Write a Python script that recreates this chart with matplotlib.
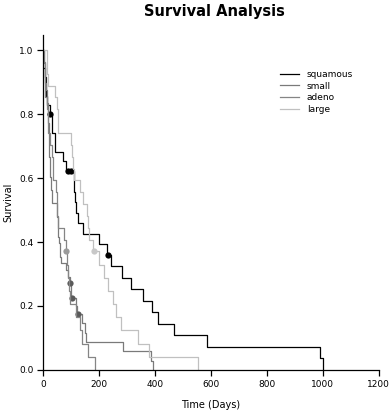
import matplotlib.pyplot as plt
import numpy as np

# survival times (days) and status (1 = death, 0 = censored) by cell type
squamous_time = [72, 411, 228, 126, 118, 10, 82, 110, 314, 100, 42, 8, 144, 25, 11,
                 999, 112, 87, 231, 242, 991, 111, 1, 587, 389, 33, 25, 357, 467, 201,
                 1, 30, 44, 283, 15]
squamous_status = [1, 1, 1, 1, 1, 1, 1, 1, 1, 0, 1, 1, 1, 0, 1,
                   1, 1, 0, 0, 1, 1, 1, 1, 1, 1, 1, 1, 1, 1, 1,
                   1, 1, 1, 1, 1]

small_time = [30, 384, 4, 54, 13, 123, 97, 153, 59, 117, 16, 151, 22, 56, 21, 18,
              139, 20, 31, 52, 287, 18, 51, 122, 27, 54, 7, 63, 392, 10,
              25, 103, 21, 13, 87, 2, 20, 7, 24, 99, 8, 99, 61, 25, 95, 80, 51, 29]
small_status = [1, 1, 1, 1, 1, 0, 0, 1, 1, 1, 1, 1, 1, 1, 1, 1,
                1, 1, 1, 1, 1, 1, 1, 1, 1, 1, 1, 1, 1, 1,
                1, 0, 1, 1, 1, 1, 1, 1, 1, 1, 1, 1, 1, 1, 1, 1, 1, 1]

adeno_time = [8, 92, 35, 117, 132, 12, 162, 3, 95,
              24, 18, 83, 31, 51, 90, 52, 73, 8, 36, 48, 7, 140, 186, 84, 19, 45, 80]
adeno_status = [1, 1, 1, 1, 1, 1, 1, 1, 1,
                1, 1, 0, 1, 1, 1, 1, 1, 1, 1, 1, 1, 1, 1, 1, 1, 1, 1]

large_time = [177, 162, 216, 553, 278, 12, 260, 200, 156, 182, 143, 105, 103, 250, 100,
              52, 164, 19, 53, 15, 43, 340, 133, 111, 231, 378, 49]
large_status = [1, 1, 1, 1, 1, 1, 1, 1, 1, 0, 1, 1, 1, 1, 1,
                1, 1, 1, 1, 1, 1, 1, 1, 1, 1, 1, 1]

groups = ["squamous", "small", "adeno", "large"]
line_colors = ["#000000", "#7a7a7a", "#858585", "#c0c0c0"]
marker_colors = ["#000000", "#5a5a5a", "#9a9a9a", "#c8c8c8"]


def kaplan_meier(time, status):
    t = np.array(time, dtype=float)
    e = np.array(status)
    xs, ys = [0.0], [1.0]
    s = 1.0
    for u in np.unique(t):
        d = np.sum((t == u) & (e == 1))
        n = np.sum(t >= u)
        if d > 0:
            s *= 1 - d / n
            xs.append(u)
            ys.append(s)
    xs, ys = np.array(xs), np.array(ys)
    cens_t = t[e == 0]
    cens_s = np.array([ys[np.searchsorted(xs, c, side="right") - 1] for c in cens_t])
    return xs, ys, cens_t, cens_s


data = [(squamous_time, squamous_status), (small_time, small_status),
        (adeno_time, adeno_status), (large_time, large_status)]

fig = plt.figure(figsize=(3.89, 4.12), dpi=100)
ax = fig.add_axes([0.111, 0.102, 0.863, 0.813])

for name, (tt, ss), lc, mc in zip(groups, data, line_colors, marker_colors):
    xs, ys, ct, cs = kaplan_meier(tt, ss)
    ax.step(xs, ys, where="post", color=lc, linewidth=0.9, label=name)
    ax.plot(ct, cs, "o", color=mc, markersize=4.5, markeredgewidth=0)

ax.set_xlim(0, 1200)
ax.set_ylim(0, 1.047)
ax.set_xticks([0, 200, 400, 600, 800, 1000, 1200])
ax.set_yticks([0.0, 0.2, 0.4, 0.6, 0.8, 1.0])
ax.set_yticklabels(["0.0", "0.2", "0.4", "0.6", "0.8", "1.0"])
ax.spines["top"].set_visible(False)
ax.spines["right"].set_visible(False)
ax.spines["left"].set_linewidth(0.9)
ax.spines["bottom"].set_linewidth(0.9)
ax.tick_params(direction="out", length=4, width=0.9, labelsize=6.5, pad=3)

ax.set_xlabel("Time (Days)", fontsize=7, labelpad=8)
ax.set_ylabel("Survival", fontsize=7, labelpad=4)
fig.suptitle("Survival Analysis", fontsize=10.5, fontweight="bold", x=0.55, y=0.99)

ax.legend(loc="upper left", bbox_to_anchor=(0.68, 0.92), frameon=False,
          fontsize=6.5, handlelength=2.2, handletextpad=0.8, labelspacing=0.3)

plt.savefig("out.png", dpi=100)
